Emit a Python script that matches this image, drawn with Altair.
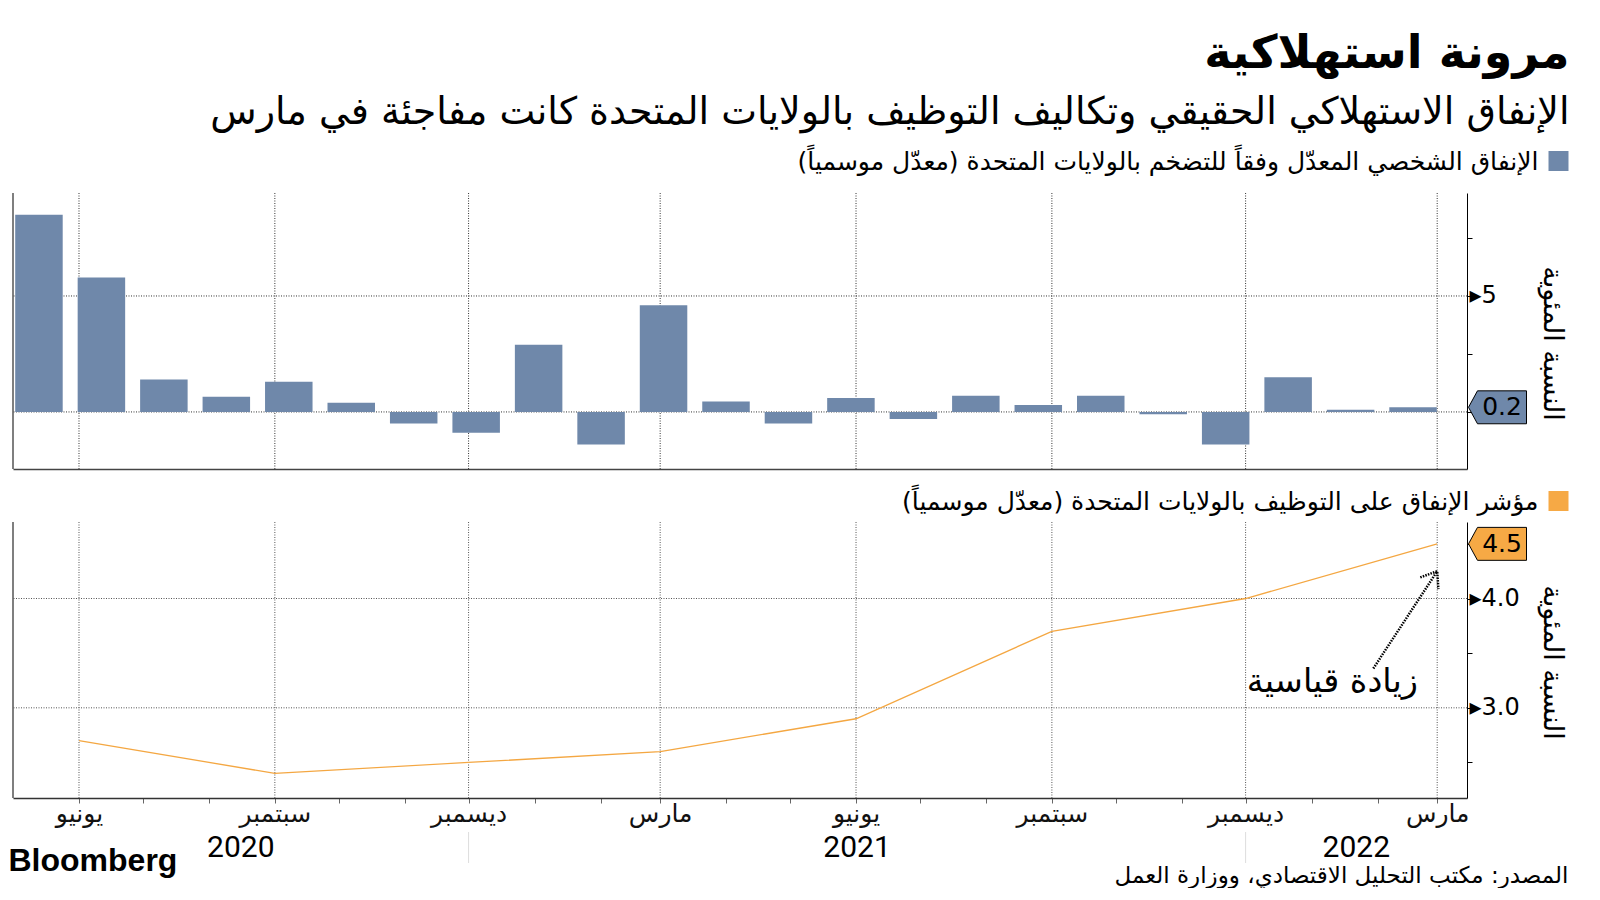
import altair as alt
import pandas as pd

# ---------------- data ----------------
bar_months = ["2020-05", "2020-06", "2020-07", "2020-08", "2020-09", "2020-10", "2020-11", "2020-12",
              "2021-01", "2021-02", "2021-03", "2021-04", "2021-05", "2021-06", "2021-07", "2021-08",
              "2021-09", "2021-10", "2021-11", "2021-12", "2022-01", "2022-02", "2022-03"]
bar_values = [8.5, 5.8, 1.4, 0.65, 1.3, 0.4, -0.5, -0.9, 2.9, -1.4, 4.6, 0.45,
              -0.5, 0.6, -0.3, 0.7, 0.3, 0.7, -0.1, -1.4, 1.5, 0.1, 0.2]

eci_dates = ["2020-06-01", "2020-09-01", "2020-12-01", "2021-03-01",
             "2021-06-01", "2021-09-01", "2021-12-01", "2022-03-01"]
eci_values = [2.7, 2.4, 2.5, 2.6, 2.9, 3.7, 4.0, 4.5]

tick_dates = ["2020-06-01", "2020-07-01", "2020-08-01", "2020-09-01", "2020-10-01", "2020-11-01",
              "2020-12-01", "2021-01-01", "2021-02-01", "2021-03-01", "2021-04-01", "2021-05-01",
              "2021-06-01", "2021-07-01", "2021-08-01", "2021-09-01", "2021-10-01", "2021-11-01",
              "2021-12-01", "2022-01-01", "2022-02-01", "2022-03-01"]
grid_dates = ["2020-06-01", "2020-09-01", "2020-12-01", "2021-03-01",
              "2021-06-01", "2021-09-01", "2021-12-01", "2022-03-01"]
month_names = {5: "يونيو", 8: "سبتمبر", 11: "ديسمبر", 2: "مارس"}
x_domain = ["2020-05-01", "2022-03-15"]

top_domain = [-2.46, 9.44]
top_ticks = [0, 2.5, 5, 7.5]
top_grid = [0, 5]
bottom_domain = [2.175, 4.70]
bottom_ticks = [2.5, 3.0, 3.5, 4.0, 4.5]
bottom_grid = [3.0, 4.0]

year_labels = ["2020", "2021", "2022"]
year_breaks = ["2020-12-01", "2021-12-01"]

arrow_from = ["2022-01-30", 3.36]
arrow_to = ["2022-03-01", 4.25]
annot_pos = ["2022-02-20", 3.24]

TITLE = "مرونة استهلاكية"
SUBTITLE = "الإنفاق الاستهلاكي الحقيقي وتكاليف التوظيف بالولايات المتحدة كانت مفاجئة في مارس"
LEG1 = "\u200fالإنفاق الشخصي المعدّل وفقاً للتضخم بالولايات المتحدة (معدّل موسمياً)\u200f"
LEG2 = "\u200fمؤشر الإنفاق على التوظيف بالولايات المتحدة (معدّل موسمياً)\u200f"
YTITLE = "النسبة المئوية"
ANNOT = "زيادة قياسية"
SOURCE = "\u200fالمصدر: مكتب التحليل الاقتصادي، ووزارة العمل\u200f"
LOGO = "Bloomberg"

# ---------------- style ----------------
W, H = 1454, 276
BLUE = "#6f88aa"
ORANGE = "#f6a945"
LINE_ORANGE = "#f4a742"
AR = "DejaVu Sans"
NUM = "DejaVu Sans"


def ms(s):
    return int(pd.Timestamp(s, tz="UTC").value // 10**6)


def iso(ts):
    return pd.Timestamp(ts).strftime("%Y-%m-%dT%H:%M:%SZ")


xscale = alt.Scale(type="utc", domain=[ms(x_domain[0]), ms(x_domain[1])])
m = "utcmonth(datum.value)"
month_expr = " : ".join(f"{m}=={k} ? '{v}'" for k, v in month_names.items()) + " : ''"

xaxis_top = alt.Axis(labels=False, ticks=False, grid=False, domain=True, domainColor="#444",
                     domainWidth=1.5, title=None)
xaxis_bottom = alt.Axis(values=[ms(d) for d in tick_dates], labelExpr=month_expr, labelFont=AR,
                        labelFontSize=25, labelColor="#111", labelPadding=-2, tickSize=5,
                        tickColor="#666", tickWidth=1, domainColor="#333", domainWidth=1.5,
                        grid=False, title=None, labelOverlap=False, labelFlush=False)


def yaxis(values, expr, title_y):
    return alt.Axis(orient="right", values=values, labelExpr=expr, grid=False, tickSize=5,
                    tickColor="#000", tickWidth=1, domainColor="#000", domainWidth=1,
                    labelFont=NUM, labelFontSize=24, labelColor="#000", labelPadding=-3,
                    labelBaseline="middle", labelOverlap=False, labelFlush=False,
                    title=YTITLE, titleFont=AR, titleFontSize=27, titleFontWeight="normal",
                    titleColor="#000", titleAngle=90, titleX=84, titleY=title_y,
                    titleAlign="center", titleBaseline="middle")


yaxis_top = yaxis(top_ticks, "datum.value == 5 ? '\u25b85' : ''", H / 2 + 12)
yaxis_bottom = yaxis(bottom_ticks,
                     "(datum.value == 3 || datum.value == 4) ? '\u25b8' + format(datum.value, '.1f') : ''",
                     H / 2 + 2)
yscale_top = alt.Scale(domain=top_domain, nice=False, zero=False)
yscale_bottom = alt.Scale(domain=bottom_domain, nice=False, zero=False)


def YT(f="v"):
    return alt.Y(f"{f}:Q", scale=yscale_top, axis=yaxis_top)


def YB(f="v"):
    return alt.Y(f"{f}:Q", scale=yscale_bottom, axis=yaxis_bottom)


def XB(f="date"):
    return alt.X(f"{f}:T", scale=xscale, axis=xaxis_bottom)


def text_layer(txt, x, y, size, align="right", weight="normal", font=AR, baseline="middle"):
    return alt.Chart(pd.DataFrame({"t": [txt]})).mark_text(
        align=align, baseline=baseline, font=font, fontSize=size, fontWeight=weight, color="#000"
    ).encode(text="t:N", x=alt.value(x), y=alt.value(y))


one = pd.DataFrame({"a": [0]})
callout_path = "M0,0L0.155,-0.284L1,-0.284L1,0.284L0.155,0.284Z"
chevron = "M-0.6,0.8L0,0L0.6,0.8"

# ---------------- top panel ----------------
df_bars = pd.DataFrame({"month": bar_months, "v": bar_values})
df_grid = pd.DataFrame({"date": grid_dates})

vgrid_top = alt.Chart(df_grid).mark_rule(color="#333", strokeDash=[1, 1.5], strokeWidth=1).encode(
    x=alt.X("date:T", scale=xscale, axis=xaxis_top))
hgrid_top = alt.Chart(pd.DataFrame({"v": top_grid})).mark_rule(
    color="#333", strokeDash=[1, 1.5], strokeWidth=1).encode(y=YT())
bars = alt.Chart(df_bars).mark_bar(color=BLUE).encode(
    x=alt.X("month:O", sort=None, axis=None,
            scale=alt.Scale(paddingInner=0.2395, paddingOuter=0.2594, align=0.068)),
    y=YT())
left_top = alt.Chart(one).mark_rule(color="#555", strokeWidth=1.5).encode(
    x=alt.value(0), y=alt.value(0), y2=alt.value(H))
df_last_bar = pd.DataFrame({"v": [bar_values[-1]]})
box_top = alt.Chart(df_last_bar).mark_point(
    shape=callout_path, size=116 ** 2, filled=True, fill=BLUE, stroke="#000", strokeWidth=1,
    opacity=1).encode(x=alt.value(W + 1.5), y=YT())
box_top_txt = alt.Chart(df_last_bar).mark_text(
    font=NUM, fontSize=25, color="#000", align="center", baseline="middle").encode(
    x=alt.value(W + 35), y=YT(), text=alt.Text("v:Q", format=".1f"))
leg1_sq = alt.Chart(one).mark_square(size=400, color=BLUE, opacity=1).encode(
    x=alt.value(1545.5), y=alt.value(-32))

top = alt.layer(
    vgrid_top, hgrid_top, bars, left_top, box_top, box_top_txt,
    text_layer(TITLE, 1556.5, -139, 46, weight="bold"),
    text_layer(SUBTITLE, 1556.5, -80, 38),
    leg1_sq, text_layer(LEG1, 1525.5, -31, 25),
).resolve_scale(x="independent").properties(width=W, height=H)

# ---------------- bottom panel ----------------
df_eci = pd.DataFrame({"date": eci_dates, "v": eci_values})
vgrid_bot = alt.Chart(df_grid).mark_rule(color="#555", strokeDash=[1, 1.5], strokeWidth=1).encode(x=XB())
hgrid_bot = alt.Chart(pd.DataFrame({"v": bottom_grid})).mark_rule(
    color="#555", strokeDash=[1, 1.5], strokeWidth=1).encode(y=YB())
line = alt.Chart(df_eci).mark_line(color=LINE_ORANGE, strokeWidth=1.3).encode(x=XB(), y=YB())
left_bot = alt.Chart(one).mark_rule(color="#555", strokeWidth=1.5).encode(
    x=alt.value(0), y=alt.value(0), y2=alt.value(H))
df_last_eci = pd.DataFrame({"v": [eci_values[-1]]})
box_bot = alt.Chart(df_last_eci).mark_point(
    shape=callout_path, size=116 ** 2, filled=True, fill=ORANGE, stroke="#000", strokeWidth=1,
    opacity=1).encode(x=alt.value(W + 1.5), y=YB())
box_bot_txt = alt.Chart(df_last_eci).mark_text(
    font=NUM, fontSize=25, color="#000", align="center", baseline="middle").encode(
    x=alt.value(W + 35), y=YB(), text=alt.Text("v:Q", format=".1f"))

df_arrow = pd.DataFrame({"x0": [arrow_from[0]], "y0": [arrow_from[1]],
                         "date": [arrow_to[0]], "v": [arrow_to[1]]})
arrow = alt.Chart(df_arrow).mark_rule(color="#000", strokeWidth=2.5, strokeDash=[1.5, 1.2]).encode(
    x=XB("x0"), x2="date:T", y=YB("y0"), y2="v:Q")
arrow_head = alt.Chart(df_arrow).mark_point(
    shape=chevron, size=36 ** 2, filled=False, stroke="#000", strokeWidth=2.5,
    strokeDash=[1.5, 1.2], angle=33, opacity=1).encode(x=XB(), y=YB())
annot = alt.Chart(pd.DataFrame({"date": [annot_pos[0]], "v": [annot_pos[1]], "t": [ANNOT]})).mark_text(
    font=AR, fontSize=33.5, color="#000", align="right", baseline="middle").encode(
    x=XB(), y=YB(), text="t:N")

leg2_sq = alt.Chart(one).mark_square(size=400, color=ORANGE, opacity=1).encode(
    x=alt.value(1545.5), y=alt.value(-21))

bounds = [pd.Timestamp(x_domain[0])] + [pd.Timestamp(b) for b in year_breaks] + [pd.Timestamp(x_domain[1])]
year_mid = [iso(bounds[i] + (bounds[i + 1] - bounds[i]) / 2) for i in range(len(year_labels))]
years = alt.Chart(pd.DataFrame({"date": year_mid, "t": year_labels})).mark_text(
    font="Liberation Sans Narrow, Roboto", fontSize=30, color="#000", align="center",
    baseline="middle").encode(x=XB(), y=alt.value(326), text="t:N")
seps = alt.Chart(pd.DataFrame({"date": year_breaks})).mark_rule(color="#ddd", strokeWidth=1).encode(
    x=XB(), y=alt.value(310), y2=alt.value(341))

bottom = alt.layer(
    vgrid_bot, hgrid_bot, line, left_bot, arrow, arrow_head, annot, box_bot, box_bot_txt,
    leg2_sq, text_layer(LEG2, 1525.5, -20, 25),
    years, seps,
    text_layer(LOGO, -4.5, 349, 32, align="left", weight="bold", font="Liberation Sans",
               baseline="alphabetic"),
    text_layer(SOURCE, 1555.5, 354, 23),
).properties(width=W, height=H)

chart = alt.vconcat(top, bottom, spacing=53, bounds="flush").properties(
    padding={"left": 0, "top": 23, "right": 0, "bottom": 0}, background="white"
).configure_view(stroke="transparent", strokeWidth=0)

chart.save("out.html", embed_options={"renderer": "svg", "actions": False})
